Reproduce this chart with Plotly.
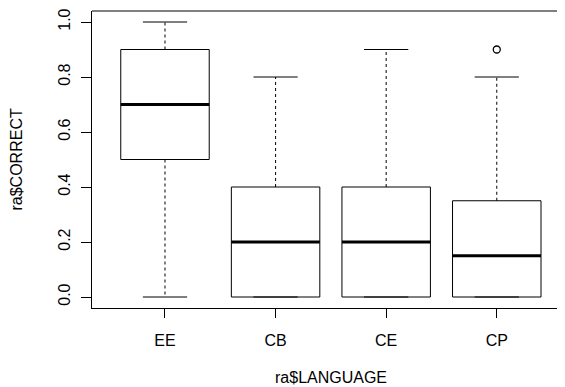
import plotly.graph_objects as go

categories = ["EE", "CB", "CE", "CP"]
mins = [0.0, 0.0, 0.0, 0.0]
q1s = [0.5, 0.0, 0.0, 0.0]
medians = [0.7, 0.2, 0.2, 0.15]
q3s = [0.9, 0.4, 0.4, 0.35]
maxs = [1.0, 0.8, 0.9, 0.8]
outlier_groups = ["CP"]
outlier_values = [0.9]

positions = list(range(1, len(categories) + 1))
half_box = 0.4
half_cap = 0.2

box_x, box_y = [], []
med_x, med_y = [], []
wh_x, wh_y = [], []
cap_x, cap_y = [], []
for p, lo, a, m, b, hi in zip(positions, mins, q1s, medians, q3s, maxs):
    box_x += [p - half_box, p + half_box, p + half_box, p - half_box, p - half_box, None]
    box_y += [a, a, b, b, a, None]
    med_x += [p - half_box, p + half_box, None]
    med_y += [m, m, None]
    wh_x += [p, p, None, p, p, None]
    wh_y += [b, hi, None, a, lo, None]
    cap_x += [p - half_cap, p + half_cap, None, p - half_cap, p + half_cap, None]
    cap_y += [hi, hi, None, lo, lo, None]

out_x = [positions[categories.index(g)] for g in outlier_groups]

FONT = "Liberation Sans, Arial, sans-serif"

fig = go.Figure()
fig.add_trace(go.Scatter(x=wh_x, y=wh_y, mode="lines",
                         line=dict(color="black", width=1, dash="3px,3px"),
                         hoverinfo="skip"))
fig.add_trace(go.Scatter(x=cap_x, y=cap_y, mode="lines",
                         line=dict(color="black", width=1), hoverinfo="skip"))
fig.add_trace(go.Scatter(x=box_x, y=box_y, mode="lines",
                         line=dict(color="black", width=1), hoverinfo="skip"))
fig.add_trace(go.Scatter(x=med_x, y=med_y, mode="lines",
                         line=dict(color="black", width=3), hoverinfo="skip"))
fig.add_trace(go.Scatter(x=out_x, y=outlier_values, mode="markers",
                         marker=dict(symbol="circle-open", size=7,
                                     color="black", line=dict(width=1.3)),
                         hoverinfo="skip"))

fig.update_layout(
    width=557, height=379,
    margin=dict(l=84, r=0, t=3, b=79),
    paper_bgcolor="white", plot_bgcolor="white",
    showlegend=False,
    font=dict(family=FONT, size=16, color="black"),
    xaxis=dict(range=[0.34, 4.617], tickvals=positions, ticktext=categories,
               showgrid=False, zeroline=False, showline=True, linecolor="black",
               linewidth=1, ticks="outside", ticklen=9, tickcolor="black",
               tickfont=dict(size=16), ticklabelstandoff=9),
    yaxis=dict(range=[-0.04, 1.04], tickvals=[0, 0.2, 0.4, 0.6, 0.8, 1.0],
               ticktext=["0.0", "0.2", "0.4", "0.6", "0.8", "1.0"],
               showgrid=False, zeroline=False, showline=True, linecolor="black",
               linewidth=1, ticks="outside", ticklen=10, tickcolor="black",
               tickangle=-90, tickfont=dict(size=16), ticklabelstandoff=5),
    shapes=[dict(type="line", xref="paper", yref="paper", x0=0, x1=1, y0=1, y1=1,
                 line=dict(color="black", width=1))],
    annotations=[
        dict(text="ra$LANGUAGE", xref="x", yref="paper", x=2.5, y=0,
             yshift=-69, yanchor="middle", xanchor="center",
             showarrow=False, font=dict(size=16)),
        dict(text="ra$CORRECT", xref="paper", yref="y", x=0, y=0.5,
             xshift=-76, xanchor="center", yanchor="middle", textangle=-90,
             showarrow=False, font=dict(size=16)),
    ],
)

fig.write_html("out.html")
